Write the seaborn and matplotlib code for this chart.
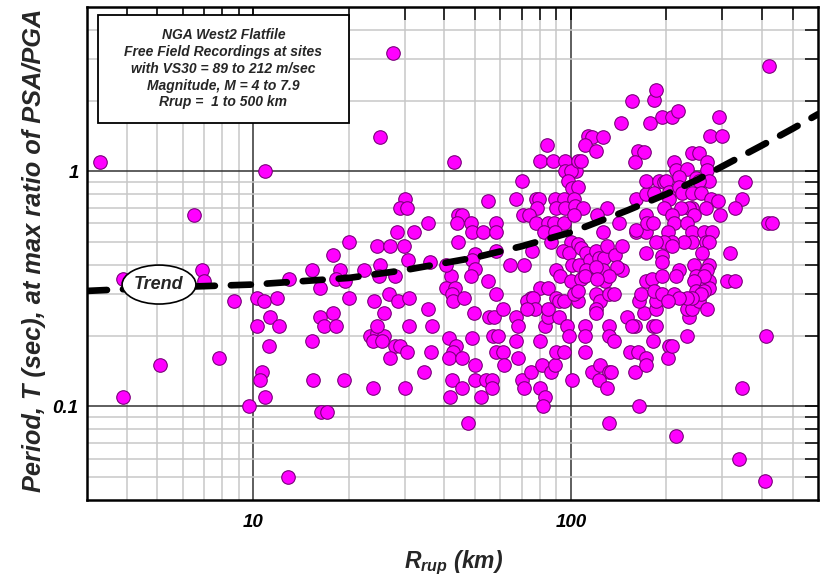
import matplotlib
matplotlib.use('Agg')
import pandas as pd
import matplotlib.pyplot as plt
import seaborn as sns
from matplotlib.patches import Ellipse, Rectangle
from matplotlib.ticker import FixedLocator, NullFormatter

# points (Rrup km, T sec), grouped by distance band
pts_near = [(3.3, 1.1), (3.9, 0.35), (3.9, 0.11), (5.1, 0.15), (6.5, 0.65), (6.9, 0.38),
            (7.0, 0.34), (7.8, 0.16), (8.7, 0.28), (9.7, 0.10), (10.9, 1.0), (10.3, 0.29),
            (10.8, 0.28), (11.9, 0.29), (11.3, 0.24), (10.3, 0.22), (12.1, 0.22), (11.2, 0.18),
            (10.7, 0.14), (10.5, 0.13), (10.9, 0.11), (12.9, 0.05), (13.0, 0.35), (15.3, 0.38),
            (16.2, 0.32), (16.2, 0.24), (16.7, 0.22), (17.9, 0.25), (18.2, 0.22), (15.3, 0.19),
            (15.4, 0.13), (16.4, 0.095), (17.1, 0.095), (17.9, 0.44), (18.8, 0.38), (18.3, 0.35),
            (19.4, 0.34), (19.3, 0.13)]

pts_20_40 = [(20, 0.50), (20, 0.29), (22.3, 0.38), (24.6, 0.48), (27, 0.48), (29.9, 0.48),
             (25, 0.40), (24.9, 0.36), (24, 0.28), (25, 1.4), (27.5, 3.2), (23.3, 0.20),
             (24.6, 0.205), (25.8, 0.20), (23.9, 0.19), (25.4, 0.19), (24.6, 0.22), (23.8, 0.12),
             (30, 0.76), (29, 0.70), (30.4, 0.70), (35.4, 0.60), (28.4, 0.55), (32, 0.55),
             (30.8, 0.42), (36, 0.41), (28, 0.36), (26.8, 0.30), (28.6, 0.28), (31, 0.29),
             (25.8, 0.25), (35.4, 0.26), (31, 0.22), (36.5, 0.22), (28, 0.18), (29, 0.18),
             (30.6, 0.17), (27, 0.16), (36.4, 0.17), (34.5, 0.14), (30, 0.12)]

pts_40_60 = [(43, 1.1), (44, 0.65), (45.6, 0.65), (43.8, 0.60), (48.5, 0.60), (49, 0.55),
             (53, 0.55), (58, 0.60), (58, 0.55), (55, 0.75), (44, 0.50), (50, 0.446),
             (49, 0.42), (49.8, 0.385), (58, 0.46), (42, 0.36), (48.5, 0.36), (55, 0.34),
             (40.4, 0.32), (43.2, 0.32), (42.2, 0.30), (42.7, 0.28), (46, 0.29), (58, 0.30),
             (49.5, 0.25), (55.4, 0.24), (57.4, 0.24), (41.5, 0.195), (49, 0.195), (57, 0.20),
             (59, 0.20), (43.6, 0.18), (42.7, 0.17), (41.5, 0.16), (45.6, 0.16), (49.8, 0.15),
             (58, 0.17), (61, 0.17), (61.6, 0.15), (61, 0.26), (42.3, 0.13), (45.6, 0.12),
             (50, 0.13), (54, 0.13), (56.6, 0.13), (56.6, 0.12), (41.7, 0.11), (52.2, 0.11),
             (47.5, 0.085), (40.4, 0.40)]

pts_60_100 = [(84, 1.3), (80, 1.11), (88, 1.11), (96, 1.11), (96, 1.0), (104, 1.0), (100, 1.0),
              (98, 0.91), (100.7, 0.85), (105.7, 0.86), (70, 0.91), (67, 0.76), (77.5, 0.76),
              (79.4, 0.76), (89, 0.76), (95, 0.76), (102, 0.76), (78, 0.70), (89.6, 0.70),
              (96, 0.70), (103, 0.71), (109, 0.70), (70.7, 0.65), (73.9, 0.65), (77.5, 0.60),
              (85, 0.60), (88.5, 0.60), (95, 0.60), (102, 0.65), (82.6, 0.55), (89, 0.55),
              (100, 0.50), (86.4, 0.50), (75.5, 0.46), (94.6, 0.46), (64.3, 0.40), (71.4, 0.40),
              (89.6, 0.38), (92.7, 0.36), (100, 0.34), (80, 0.32), (85, 0.32), (74.7, 0.29),
              (89.6, 0.29), (98.8, 0.45), (101, 0.40), (106, 0.40), (67, 0.24), (68, 0.22),
              (67, 0.19), (68, 0.16), (70, 0.13), (71, 0.12), (74.7, 0.14), (73, 0.28), (76, 0.29),
              (77, 0.26), (73, 0.26), (80, 0.19), (80, 0.12), (83, 0.11), (82, 0.10), (81, 0.15),
              (86.5, 0.14), (89, 0.15), (83, 0.22), (85, 0.24), (85, 0.26), (92, 0.28), (95, 0.28),
              (92, 0.24), (89.6, 0.17), (95, 0.17), (97.5, 0.22), (98.8, 0.20), (100.7, 0.13)]

pts_100_200 = [(156, 2.0), (144, 1.6), (178, 1.6), (183, 2.02), (186, 2.22), (193, 1.71),
               (209, 1.71), (218, 1.81), (113, 1.42), (117, 1.40), (126, 1.40), (111, 1.30),
               (120, 1.22), (163, 1.22), (170, 1.21), (159, 1.10), (105, 1.11), (107.5, 1.11),
               (130, 0.70), (120.6, 0.65), (141.5, 0.60), (126, 0.55), (160, 0.76), (172, 0.80),
               (160, 0.55), (172, 0.65), (172, 0.55), (172, 0.45), (105, 0.49), (108, 0.47),
               (112, 0.45), (115, 0.42), (120, 0.46), (123, 0.43), (127, 0.43), (130, 0.48),
               (138, 0.44), (145, 0.48), (145, 0.38), (140, 0.39), (112, 0.38), (126, 0.38),
               (120, 0.39), (128.5, 0.34), (108, 0.35), (110.5, 0.36), (132, 0.36), (121, 0.35),
               (160, 0.565), (173, 0.34), (180, 0.35), (105, 0.28), (110.5, 0.22), (111, 0.20),
               (110.5, 0.17), (120, 0.30), (124, 0.28), (132, 0.30), (137, 0.30), (120, 0.26),
               (120, 0.25), (132, 0.22), (132, 0.20), (137, 0.19), (117, 0.14), (124, 0.15),
               (132, 0.14), (134, 0.14), (123, 0.13), (130, 0.12), (150, 0.24), (159, 0.22),
               (156, 0.22), (154, 0.17), (163, 0.17), (159, 0.14), (172, 0.16), (172, 0.15),
               (170, 0.25), (164, 0.28), (166, 0.30), (181, 0.22), (185, 0.22), (181, 0.19),
               (185, 0.26), (185, 0.28), (183, 0.31), (194, 0.30), (164, 0.10), (132, 0.085),
               (102, 0.30), (105, 0.31)]

pts_far = [(292, 1.7), (275, 1.41), (300, 1.41), (241, 1.2), (254, 1.2), (212, 1.1), (269, 1.1),
           (215, 1.01), (233, 1.02), (269, 1.01), (219, 0.95), (247, 0.94), (273, 0.91),
           (353, 0.90), (172, 0.91), (189, 0.91), (197, 0.90), (200, 0.91), (254, 0.91),
           (204, 0.82), (219, 0.86), (183, 0.81), (224, 0.81), (241, 0.81), (257, 0.81),
           (204, 0.76), (276, 0.76), (290, 0.75), (347, 0.76), (329, 0.70), (295, 0.65),
           (266, 0.70), (241, 0.70), (236, 0.70), (222, 0.70), (197, 0.70), (209, 0.65),
           (244, 0.65), (174, 0.60), (181, 0.60), (212, 0.60), (233, 0.60), (202, 0.55),
           (241, 0.55), (263, 0.55), (279, 0.55), (266, 0.50), (241, 0.50), (227, 0.50),
           (209, 0.50), (197, 0.50), (185, 0.50), (273, 0.50), (259, 0.45), (316, 0.45),
           (209, 0.48), (245, 0.40), (273, 0.40), (269, 0.38), (247, 0.36), (273, 0.34),
           (273, 0.32), (254, 0.32), (219, 0.38), (215, 0.36), (194, 0.435), (194, 0.41),
           (194, 0.36), (263, 0.36), (245, 0.34), (311, 0.34), (329, 0.34), (417, 0.60),
           (430, 0.60), (420, 2.8), (236, 0.24), (233, 0.26), (241, 0.26), (254, 0.28),
           (269, 0.26), (232, 0.20), (411, 0.20), (345, 0.12), (338, 0.06), (410, 0.048),
           (247, 0.31), (263, 0.31), (257, 0.30), (241, 0.29), (232, 0.29), (211, 0.30),
           (219, 0.29), (202, 0.28), (204, 0.18), (202, 0.16), (208, 0.18), (215, 0.075)]

# trend line
trend_R = [3, 5, 10, 20, 30, 50, 70, 100, 150, 200, 250, 300, 400, 500, 600]
trend_T = [0.31, 0.32, 0.33, 0.352, 0.38, 0.43, 0.48, 0.55, 0.68, 0.80, 0.92, 1.05, 1.29, 1.52, 1.75]

x_major = [10, 100]
x_minor = [4, 5, 6, 7, 8, 9, 20, 30, 40, 50, 60, 70, 80, 90, 200, 300, 400, 500]
y_major = [0.1, 1]
y_minor = [0.05, 0.06, 0.07, 0.08, 0.09, 0.2, 0.3, 0.4, 0.5, 0.6, 0.7, 0.8, 0.9, 2, 3, 4]

info_text = ("NGA West2 Flatfile\nFree Field Recordings at sites\n"
             "with VS30 = 89 to 212 m/sec\nMagnitude, M = 4 to 7.9\nRrup =  1 to 500 km")

sns.set_style('white')
plt.rcParams['font.family'] = ['Liberation Sans', 'DejaVu Sans']
plt.rcParams['font.weight'] = 'bold'
plt.rcParams['font.style'] = 'italic'
plt.rcParams['axes.labelweight'] = 'bold'
plt.rcParams['mathtext.fontset'] = 'custom'
plt.rcParams['mathtext.bfit'] = 'Liberation Sans:bold:italic'
plt.rcParams['mathtext.it'] = 'Liberation Sans:bold:italic'
plt.rcParams['mathtext.rm'] = 'Liberation Sans:bold:italic'

df = pd.DataFrame(pts_near + pts_20_40 + pts_40_60 + pts_60_100 + pts_100_200 + pts_far,
                  columns=['R', 'T'])

fig = plt.figure(figsize=(8.25, 5.8), dpi=100)
ax = fig.add_axes([87 / 825, 80 / 580, 731 / 825, 493 / 580])

sns.scatterplot(data=df, x='R', y='T', ax=ax, s=95, color='#ff00ff',
                edgecolor='#7a007a', linewidth=0.8, zorder=3, legend=False)
ax.plot(trend_R, trend_T, color='black', lw=4.8, linestyle=(0, (3.0, 2.4)),
        dash_capstyle='round', zorder=4)

ax.set_xscale('log')
ax.set_yscale('log')
ax.set_xlim(3, 600)
ax.set_ylim(0.04, 5)

ax.xaxis.set_major_locator(FixedLocator(x_major))
ax.xaxis.set_minor_locator(FixedLocator(x_minor))
ax.yaxis.set_major_locator(FixedLocator(y_major))
ax.yaxis.set_minor_locator(FixedLocator(y_minor))
ax.set_xticklabels(['10', '100'])
ax.set_yticklabels(['0.1', '1'])
ax.xaxis.set_minor_formatter(NullFormatter())
ax.yaxis.set_minor_formatter(NullFormatter())

ax.tick_params(which='both', direction='in', length=9.5, width=1.1, top=True, right=True,
               colors='black')
ax.tick_params(axis='x', which='major', pad=10, labelsize=13.5)
ax.tick_params(axis='y', which='major', pad=6, labelsize=13.5)

ax.grid(True, which='minor', color='#c8c8c8', lw=1.1)
ax.grid(True, which='major', color='#333333', lw=1.1)
ax.set_axisbelow(True)
for s in ax.spines.values():
    s.set_linewidth(1.8)
    s.set_color('black')

ax.set_xlabel(r'$\mathbfit{R}_{\mathbfit{rup}}$ (km)', fontsize=16.5, fontweight='bold')
ax.xaxis.set_label_coords(0.501, -0.099)
ax.set_ylabel('Period, T (sec), at max ratio of PSA/PGA', fontsize=18.3, fontweight='bold')
ax.yaxis.set_label_coords(-0.056, 0.507)

# info box
ax.add_patch(Rectangle((0.015, 0.765), 0.343, 0.219, transform=ax.transAxes,
                       facecolor='white', edgecolor='black', lw=1.3, zorder=5))
ax.text(0.1865, 0.8745, info_text, transform=ax.transAxes, ha='center', va='center',
        fontsize=10, linespacing=1.25, zorder=6)

# trend label
ax.add_patch(Ellipse((0.0985, 0.437), 0.101, 0.079, transform=ax.transAxes,
                     facecolor='white', edgecolor='black', lw=1.2, zorder=5))
ax.text(0.0985, 0.437, 'Trend', transform=ax.transAxes, ha='center', va='center',
        fontsize=13, zorder=6)

fig.savefig('out.png', dpi=100)
